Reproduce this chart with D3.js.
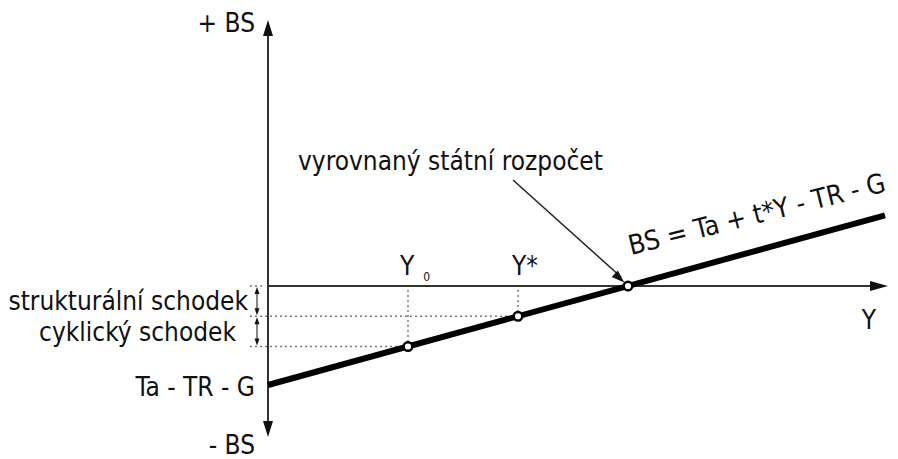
<!DOCTYPE html>
<html>
<head>
<meta charset="utf-8">
<script src="https://cdn.jsdelivr.net/npm/d3@7"></script>
<style>
  body { margin: 0; background: #fff; }
  svg text { font-family: "DejaVu Sans Condensed", "DejaVu Sans", sans-serif; fill: #111; }
</style>
</head>
<body>
<div id="chart"></div>
<script>
// Data (arbitrary units of the diagram)
const outputNames = ['Y0', 'Y*', 'balanced'];
const outputValues = [140, 250, 360];
const bsIntercept = -99;          // Ta - TR - G
const bsSlope = 0.275;            // t
const lineDomain = [0, 617];
const xDomain = [0, 620];
const yDomain = [-151, 266];

const width = 898, height = 459;

const x = d3.scaleLinear().domain(xDomain).range([268, 888]);
const y = d3.scaleLinear().domain(yDomain).range([437, 20]);
const bs = v => bsIntercept + bsSlope * v;

const svg = d3.select('#chart').append('svg')
    .attr('width', width)
    .attr('height', height);

//Arrow heads
const arrowHead = (tipX, tipY, dir, len, half) => {
    // dir: 'up','down','right'
    if (dir === 'up') return `M${tipX},${tipY}L${tipX - half},${tipY + len}L${tipX + half},${tipY + len}Z`;
    if (dir === 'down') return `M${tipX},${tipY}L${tipX - half},${tipY - len}L${tipX + half},${tipY - len}Z`;
    return `M${tipX},${tipY}L${tipX - len},${tipY - half}L${tipX - len},${tipY + half}Z`;
};

//Axes
const x0 = x(0), y0 = y(0);
svg.append('line')
    .attr('x1', x0).attr('x2', x0)
    .attr('y1', y(yDomain[0]) - 10).attr('y2', y(yDomain[1]) + 10)
    .attr('stroke', '#333').attr('stroke-width', 2);
svg.append('path').attr('d', arrowHead(x0, y(yDomain[1]), 'up', 16, 5)).attr('fill', '#111');
svg.append('path').attr('d', arrowHead(x0, y(yDomain[0]), 'down', 16, 5)).attr('fill', '#111');

svg.append('line')
    .attr('x1', x0).attr('x2', x(xDomain[1]) - 10)
    .attr('y1', y0).attr('y2', y0)
    .attr('stroke', '#333').attr('stroke-width', 2);
svg.append('path').attr('d', arrowHead(x(xDomain[1]), y0, 'right', 18, 5)).attr('fill', '#111');

//Dotted guides
const guides = svg.append('g')
    .attr('stroke', '#777')
    .attr('stroke-width', 1.5)
    .attr('stroke-dasharray', '2,3');
outputValues.slice(0, 2).forEach(v => {
    guides.append('line')
        .attr('x1', x(v)).attr('x2', x(v))
        .attr('y1', y0 + 4).attr('y2', y(bs(v)))
    guides.append('line')
        .attr('x1', x0 - 18).attr('x2', x(v))
        .attr('y1', y(bs(v))).attr('y2', y(bs(v)));
});
guides.append('line')
    .attr('x1', x0 - 18).attr('x2', x0 - 4)
    .attr('y1', y0).attr('y2', y0);

//Small double arrows for the deficits
const levels = [0, bs(outputValues[1]), bs(outputValues[0])];
const ax = x0 - 11;
for (let i = 0; i < 2; i++) {
    const ya = y(levels[i]) + 1, yb = y(levels[i + 1]) - 1;
    svg.append('line')
        .attr('x1', ax).attr('x2', ax)
        .attr('y1', ya + 5).attr('y2', yb - 5)
        .attr('stroke', '#333').attr('stroke-width', 1.2);
    svg.append('path').attr('d', arrowHead(ax, ya, 'up', 7, 2.5)).attr('fill', '#111');
    svg.append('path').attr('d', arrowHead(ax, yb, 'down', 7, 2.5)).attr('fill', '#111');
}

//BS line
const line = d3.line()
    .x(d => x(d))
    .y(d => y(bs(d)));
svg.append('path')
    .datum(lineDomain)
    .attr('d', line)
    .attr('fill', 'none')
    .attr('stroke', '#000')
    .attr('stroke-width', 6);

//Annotation arrow
const bx = x(outputValues[2]), by = y(bs(outputValues[2]));
svg.append('line')
    .attr('x1', 513).attr('y1', 180)
    .attr('x2', bx - 7).attr('y2', by - 9)
    .attr('stroke', '#222').attr('stroke-width', 1.5);
const ang = Math.atan2(by - 180, bx - 513);
const tipx = bx - 5 * Math.cos(ang), tipy = by - 5 * Math.sin(ang);
svg.append('path')
    .attr('d', `M0,0L-13,-4.5L-13,4.5Z`)
    .attr('transform', `translate(${tipx},${tipy}) rotate(${ang * 180 / Math.PI})`)
    .attr('fill', '#111');

//Points
svg.selectAll('.pt')
    .data(outputValues)
    .enter()
    .append('circle')
    .attr('class', 'pt')
    .attr('cx', d => x(d))
    .attr('cy', d => y(bs(d)))
    .attr('r', 4.3)
    .attr('fill', '#fff')
    .attr('stroke', '#000')
    .attr('stroke-width', 2.4);

//Texts
const fs = 26;
const txt = (s, tx, ty, anchor, size) => svg.append('text')
    .attr('x', tx).attr('y', ty)
    .attr('text-anchor', anchor || 'start')
    .style('font-size', (size || fs) + 'px')
    .text(s);

txt('+ BS', 255, 32, 'end');
txt('- BS', 255, 454, 'end');
txt('Ta - TR - G', 255, 396, 'end');
txt('strukturální schodek', 248, 310, 'end');
txt('cyklický schodek', 236, 341, 'end');
txt('Y', 876, 329, 'end');
txt('vyrovnaný státní rozpočet', 298, 170, 'start');

const yl = svg.append('text')
    .attr('x', x(outputValues[0]) - 8).attr('y', 275)
    .style('font-size', fs + 'px');
yl.append('tspan').text('Y');
yl.append('tspan').attr('dx', 9).attr('dy', 6).style('font-size', '12px').text('0');
txt('Y*', x(outputValues[1]) - 6, 275, 'start');

svg.append('text')
    .attr('transform', `translate(631,255) rotate(-14)`)
    .style('font-size', '27px')
    .text('BS = Ta + t*Y - TR - G');
</script>
</body>
</html>
